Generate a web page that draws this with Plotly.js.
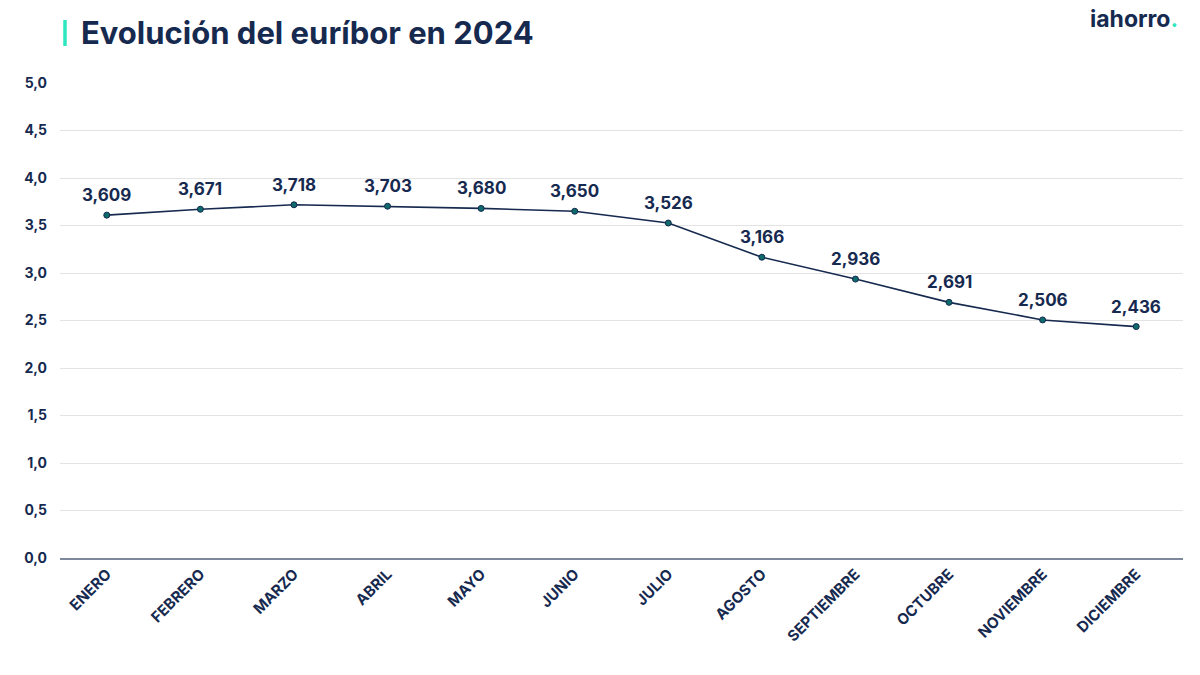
<!DOCTYPE html>
<html>
<head>
<meta charset="utf-8">
<script src="https://cdn.plot.ly/plotly-3.0.1.min.js"></script>
<style>html,body{margin:0;padding:0;background:#fff;}#chart{width:1200px;height:675px;}</style>
</head>
<body>
<div id="chart"></div>
<script>
const months = ["ENERO","FEBRERO","MARZO","ABRIL","MAYO","JUNIO","JULIO","AGOSTO","SEPTIEMBRE","OCTUBRE","NOVIEMBRE","DICIEMBRE"];
const euribor = [3.609, 3.671, 3.718, 3.703, 3.680, 3.650, 3.526, 3.166, 2.936, 2.691, 2.506, 2.436];
const yTickVals = [0, 0.5, 1, 1.5, 2, 2.5, 3, 3.5, 4, 4.5, 5];
const yTickText = ["0,0","0,5","1,0","1,5","2,0","2,5","3,0","3,5","4,0","4,5","5,0"];
const labels = euribor.map(v => v.toFixed(3).replace('.', ','));

const navy = '#16294f';
const teal = '#2ee6c0';
const FONT = 'Inter, "Open Sans", sans-serif';

const trace = {
  x: months,
  y: euribor,
  type: 'scatter',
  mode: 'lines+markers',
  line: {color: navy, width: 1.6},
  marker: {size: 6, color: '#0e6b6b', line: {color: navy, width: 1}},
  cliponaxis: false,
  hoverinfo: 'skip'
};

const valueAnnotations = months.map((m, i) => ({
  x: m, y: euribor[i], xref: 'x', yref: 'y',
  text: '<b>' + labels[i] + '</b>',
  showarrow: false,
  yanchor: 'bottom', xanchor: 'center',
  yshift: 8,
  font: {family: FONT, size: 17, color: navy}
}));

const layout = {
  width: 1200, height: 675,
  margin: {l: 60, r: 17, t: 83, b: 117},
  paper_bgcolor: '#ffffff',
  plot_bgcolor: '#ffffff',
  showlegend: false,
  font: {family: FONT, color: navy},
  xaxis: {
    type: 'category',
    range: [-0.5, 11.5],
    tickangle: -45,
    tickfont: {family: FONT, size: 15, color: navy, weight: 700},
    showgrid: false,
    showline: true,
    linecolor: '#7d889c',
    linewidth: 1.5,
    ticks: '',
    zeroline: false,
    fixedrange: true
  },
  yaxis: {
    range: [0, 5],
    tickvals: yTickVals,
    ticktext: yTickText,
    tickfont: {family: FONT, size: 14, color: navy, weight: 700},
    showgrid: true,
    gridcolor: '#e3e3e3',
    gridwidth: 1,
    zeroline: false,
    ticks: '',
    ticklabelstandoff: 12,
    fixedrange: true
  },
  shapes: [{
    type: 'line', xref: 'paper', yref: 'paper',
    x0: (65 - 60) / 1123, x1: (65 - 60) / 1123,
    y0: (558 - 20) / 475, y1: (558 - 46) / 475,
    line: {color: teal, width: 3.5}
  }],
  annotations: valueAnnotations.concat([{
    text: '<b>Evolución del euríbor en 2024</b>',
    xref: 'paper', yref: 'paper',
    x: (79 - 60) / 1123, y: (558 - 32) / 475,
    xanchor: 'left', yanchor: 'middle',
    showarrow: false,
    font: {family: FONT, size: 31, color: navy}
  }, {
    text: '<b>iahorro<span style="color:' + teal + '">.</span></b>',
    xref: 'paper', yref: 'paper',
    x: (1180 - 60) / 1123, y: (558 - 19) / 475,
    xanchor: 'right', yanchor: 'middle',
    showarrow: false,
    font: {family: FONT, size: 23, color: navy}
  }])
};

Plotly.newPlot('chart', [trace], layout, {displayModeBar: false, staticPlot: true});
</script>
</body>
</html>
